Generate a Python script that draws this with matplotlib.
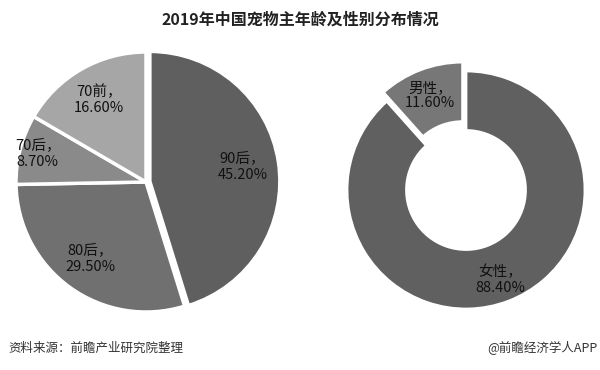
import numpy as np
import matplotlib
matplotlib.use('Agg')
import matplotlib.pyplot as plt

plt.rcParams['font.family'] = ['Noto Sans CJK SC', 'DejaVu Sans']

# 年龄分布
age_labels = ['90后', '80后', '70后', '70前']
age_values = [45.2, 29.5, 8.7, 16.6]
age_colors = ['#5f5f5f', '#707070', '#8a8a8a', '#a6a6a6']

# 性别分布
sex_labels = ['女性', '男性']
sex_values = [88.4, 11.6]
sex_colors = ['#606060', '#777777']

title = '2019年中国宠物主年龄及性别分布情况'
source = '资料来源：前瞻产业研究院整理'
credit = '@前瞻经济学人APP'


def put_labels(ax, wedges, labels, values, dists):
    for w, lab, v, d in zip(wedges, labels, values, dists):
        ang = np.deg2rad((w.theta1 + w.theta2) / 2)
        cx, cy = w.center
        ax.text(cx + d * np.cos(ang), cy + d * np.sin(ang),
                f'{lab}，\n{v:.2f}%', ha='center', va='center',
                fontsize=10.5, fontweight='medium', color='#111111',
                linespacing=1.15)


fig = plt.figure(figsize=(6, 3.7), dpi=100)

# 左：年龄饼图
W, H = 600, 370
r_px = 130
cx, cy = 146, 182
ax1 = fig.add_axes([(cx - 1.2 * r_px) / W, 1 - (cy + 1.2 * r_px) / H,
                    2.4 * r_px / W, 2.4 * r_px / H])
w1, _ = ax1.pie(age_values, colors=age_colors, startangle=90, counterclock=False,
                explode=[0.03, 0, 0, 0],
                wedgeprops=dict(edgecolor='white', linewidth=2.5))
put_labels(ax1, w1, age_labels, age_values, [0.72, 0.73, 0.86, 0.73])
ax1.set_xlim(-1.2, 1.2)
ax1.set_ylim(-1.2, 1.2)
ax1.set_aspect('auto')
ax1.axis('off')

# 右：性别环形图
r_px = 119
cx, cy = 466, 190
ax2 = fig.add_axes([(cx - 1.2 * r_px) / W, 1 - (cy + 1.2 * r_px) / H,
                    2.4 * r_px / W, 2.4 * r_px / H])
w2, _ = ax2.pie(sex_values, colors=sex_colors, startangle=90, counterclock=False,
                explode=[0, 0.08],
                wedgeprops=dict(width=0.5, edgecolor='white', linewidth=2))
put_labels(ax2, w2, sex_labels, sex_values, [0.81, 0.77])
ax2.set_xlim(-1.2, 1.2)
ax2.set_ylim(-1.2, 1.2)
ax2.set_aspect('auto')
ax2.axis('off')

fig.text(0.5, 1 - 20 / H, title, ha='center', va='center',
         fontsize=11.5, fontweight='bold', color='#222222')
fig.text(8 / W, 1 - 348 / H, source, ha='left', va='center',
         fontsize=9, color='#333333')
fig.text(597 / W, 1 - 348 / H, credit, ha='right', va='center',
         fontsize=9, color='#333333')

fig.savefig('out.png', dpi=100)
